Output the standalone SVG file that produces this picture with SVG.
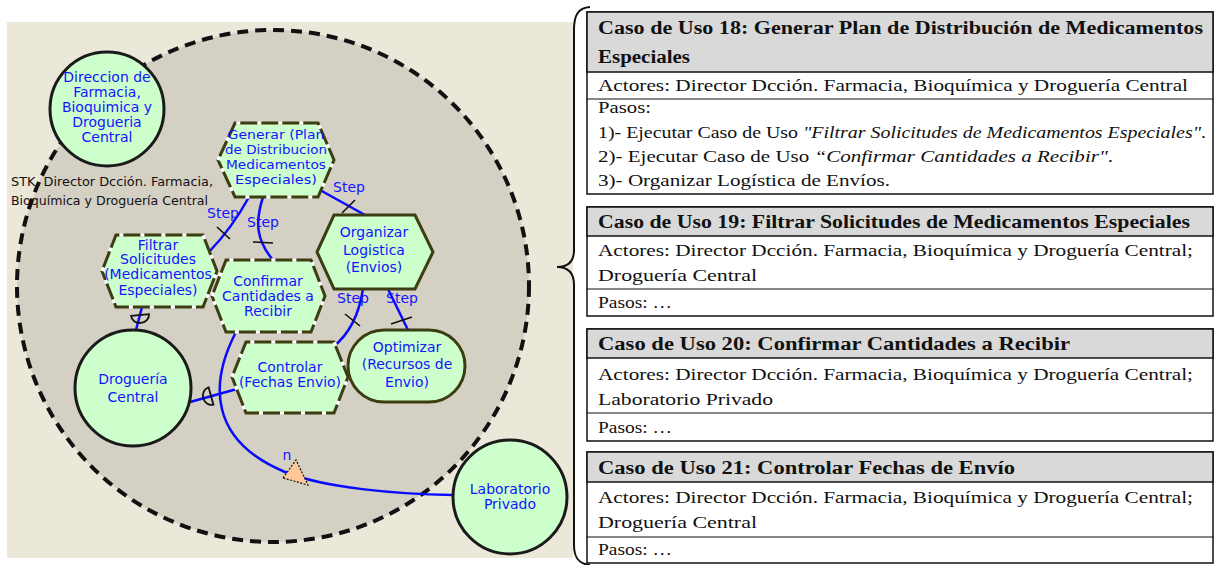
<svg xmlns="http://www.w3.org/2000/svg" width="1215" height="565" viewBox="0 0 1215 565">
  <style>
    .lbl { font-family: "DejaVu Sans", "Liberation Sans", sans-serif; font-size: 14px; fill: #1414ff; text-anchor: middle; }
    .sm { font-size: 13px; }
    .stk { font-family: "DejaVu Sans", "Liberation Sans", sans-serif; font-size: 13px; fill: #111; }
    .hex { fill: #ccffcc; stroke: #3d3d12; stroke-width: 3; stroke-linejoin: miter; }
    .hexdash { fill: none; stroke: #ffffff; stroke-width: 3.6; stroke-dasharray: 4 17; }
    .actor { fill: #ccffcc; stroke: #1a1a1a; stroke-width: 3; }
    .conn { fill: none; stroke: #0a0aff; stroke-width: 2.5; }
    .tick { stroke: #111; stroke-width: 1.6; fill: none; }
    .th { font-family: "Liberation Serif", "DejaVu Serif", serif; font-weight: bold; font-size: 18px; fill: #111; }
    .td { font-family: "Liberation Serif", "DejaVu Serif", serif; font-size: 16px; fill: #111; }
    .it { font-style: italic; }
    .tbox { fill: #ffffff; stroke: #111; stroke-width: 1.5; }
    .thead { fill: #d9d9d9; stroke: #111; stroke-width: 1.5; }
    .rule { stroke: #111; stroke-width: 1.2; }
  </style>
  <defs>
    <!-- half-disc consumption link symbol: flat side on x axis, bulge towards +y -->
    <path id="halfdisc" d="M-9,0 L9,0 A9,8 0 0 1 -9,0 Z" fill="none" stroke="#111" stroke-width="1.8"/>
  </defs>

  <rect x="0" y="0" width="1215" height="565" fill="#ffffff"/>

  <!-- model canvas -->
  <rect x="7" y="22" width="566" height="536" fill="#ebe7d9"/>
  <g id="system-boundary">
    <circle cx="273" cy="286" r="256" fill="#d4d0c4" stroke="#111" stroke-width="4" stroke-dasharray="11 7"/>
  </g>

  <!-- connectors -->
  <g id="connectors">
    <path class="conn" d="M249,197 Q232,228 209,252"/>
    <line class="tick" x1="217" y1="227" x2="230" y2="239"/>
    <path class="conn" d="M263,197 C255,222 256,240 273,260"/>
    <line class="tick" x1="253" y1="242" x2="273" y2="243"/>
    <path class="conn" d="M320,190 L365,215"/>
    <line class="tick" x1="342" y1="213" x2="355" y2="200"/>
    <path class="conn" d="M363,289 Q357,328 333,347"/>
    <line class="tick" x1="345" y1="314" x2="360" y2="326"/>
    <path class="conn" d="M388,289 L408,330"/>
    <line class="tick" x1="391" y1="324" x2="412" y2="317"/>
    <path class="conn" d="M142,307 L136,330"/>
    <use href="#halfdisc" transform="translate(140,315) rotate(-5)"/>
    <path class="conn" d="M237,389 L190,402"/>
    <use href="#halfdisc" transform="translate(211,396) rotate(74.5)"/>
    <path class="conn" d="M236,332 C210,382 208,440 285,472 C325,488 395,494 453,495"/>
    <polygon points="283,478 296,460 308,485" fill="#ffc896" stroke="#111" stroke-width="1.2" stroke-dasharray="2 1.5"/>
    <text class="lbl" x="287" y="460">n</text>
    <text class="lbl" x="223" y="218">Step</text>
    <text class="lbl" x="263" y="227">Step</text>
    <text class="lbl" x="349" y="192">Step</text>
    <text class="lbl" x="353" y="303">Step</text>
    <text class="lbl" x="402" y="303">Step</text>
  </g>

  <!-- actors -->
  <g id="direccion">
    <circle class="actor" cx="107" cy="109" r="57"/>
    <text class="lbl"><tspan x="107" y="82">Direccion de</tspan><tspan x="107" y="97">Farmacia,</tspan><tspan x="107" y="112">Bioquimica y</tspan><tspan x="107" y="127">Drogueria</tspan><tspan x="107" y="142">Central</tspan></text>
  </g>
  <g id="stk-label">
    <text class="stk" x="11" y="186" textLength="202" lengthAdjust="spacingAndGlyphs">STK, Director Dcción. Farmacia,</text>
    <text class="stk" x="11" y="205" textLength="197" lengthAdjust="spacingAndGlyphs">Bioquímica y Droguería Central</text>
  </g>
  <g id="drogueria">
    <circle class="actor" cx="133" cy="388" r="58"/>
    <text class="lbl"><tspan x="133" y="384">Droguería</tspan><tspan x="133" y="402">Central</tspan></text>
  </g>
  <g id="laboratorio">
    <circle class="actor" cx="510" cy="497" r="57"/>
    <text class="lbl"><tspan x="510" y="494">Laboratorio</tspan><tspan x="510" y="509">Privado</tspan></text>
  </g>

  <!-- processes -->
  <g id="generar">
    <polygon class="hex" points="218,160 235,123 318,123 334,160 318,197 235,197"/>
    <polygon class="hexdash" points="218,160 235,123 318,123 334,160 318,197 235,197"/>
    <text class="lbl sm"><tspan x="276" y="139" textLength="97" lengthAdjust="spacingAndGlyphs">Generar (Plan</tspan><tspan x="276" y="154" textLength="102" lengthAdjust="spacingAndGlyphs">de Distribucion</tspan><tspan x="276" y="169" textLength="100" lengthAdjust="spacingAndGlyphs">Medicamentos</tspan><tspan x="276" y="184" textLength="82" lengthAdjust="spacingAndGlyphs">Especiales)</tspan></text>
  </g>
  <g id="filtrar">
    <polygon class="hex" points="102,271 116,235 203,235 217,271 203,307 116,307"/>
    <polygon class="hexdash" points="102,271 116,235 203,235 217,271 203,307 116,307"/>
    <text class="lbl"><tspan x="158" y="250">Filtrar</tspan><tspan x="158" y="264">Solicitudes</tspan><tspan x="158" y="279">(Medicamentos</tspan><tspan x="158" y="295">Especiales)</tspan></text>
  </g>
  <g id="confirmar">
    <polygon class="hex" points="212,296 226,260 311,260 325,296 311,332 226,332"/>
    <polygon class="hexdash" points="212,296 226,260 311,260 325,296 311,332 226,332"/>
    <text class="lbl"><tspan x="268" y="286">Confirmar</tspan><tspan x="268" y="301">Cantidades a</tspan><tspan x="268" y="316">Recibir</tspan></text>
  </g>
  <g id="organizar">
    <polygon class="hex" points="317,252 334,215 415,215 433,252 415,289 334,289"/>
    <text class="lbl"><tspan x="374" y="237">Organizar</tspan><tspan x="374" y="255">Logistica</tspan><tspan x="374" y="272">(Envios)</tspan></text>
  </g>
  <g id="controlar">
    <polygon class="hex" points="232,377 246,342 334,342 348,377 334,413 246,413"/>
    <polygon class="hexdash" points="232,377 246,342 334,342 348,377 334,413 246,413"/>
    <text class="lbl"><tspan x="290" y="372">Controlar</tspan><tspan x="290" y="387">(Fechas Envio)</tspan></text>
  </g>
  <g id="optimizar">
    <rect class="hex" x="348" y="330" width="117" height="72" rx="36" ry="36"/>
    <text class="lbl"><tspan x="407" y="352">Optimizar</tspan><tspan x="407" y="369">(Recursos de</tspan><tspan x="407" y="387">Envio)</tspan></text>
  </g>

  <!-- brace grouping the use case tables -->
  <path d="M590,7 C578,8 574,15 574,30 L574,250 C574,261 568,267 557,267 C568,267 574,273 574,285 L574,545 C574,557 578,564 590,565" fill="none" stroke="#111" stroke-width="2"/>

  <!-- use case 18 -->
  <g id="uc18">
    <rect class="tbox" x="587" y="12" width="626" height="182"/>
    <rect class="thead" x="587" y="12" width="626" height="60"/>
    <line class="rule" x1="587" y1="99" x2="1213" y2="99"/>
    <text class="th" x="598" y="34" textLength="605" lengthAdjust="spacingAndGlyphs">Caso de Uso 18: Generar Plan de Distribución de Medicamentos</text>
    <text class="th" x="598" y="63" textLength="92" lengthAdjust="spacingAndGlyphs">Especiales</text>
    <text class="td" x="598" y="91" textLength="590" lengthAdjust="spacingAndGlyphs">Actores: Director Dcción. Farmacia, Bioquímica y Droguería Central</text>
    <text class="td" x="598" y="113" textLength="53" lengthAdjust="spacingAndGlyphs">Pasos:</text>
    <text class="td" x="598" y="138" textLength="608" lengthAdjust="spacingAndGlyphs">1)- Ejecutar Caso de Uso <tspan class="it">"Filtrar Solicitudes de Medicamentos Especiales"</tspan>.</text>
    <text class="td" x="598" y="162" textLength="515" lengthAdjust="spacingAndGlyphs">2)- Ejecutar Caso de Uso <tspan class="it">“Confirmar Cantidades a Recibir"</tspan>.</text>
    <text class="td" x="598" y="186" textLength="292" lengthAdjust="spacingAndGlyphs">3)- Organizar Logística de Envíos.</text>
  </g>

  <!-- use case 19 -->
  <g id="uc19">
    <rect class="tbox" x="587" y="207" width="626" height="109"/>
    <rect class="thead" x="587" y="207" width="626" height="29"/>
    <line class="rule" x1="587" y1="289" x2="1213" y2="289"/>
    <text class="th" x="598" y="228" textLength="592" lengthAdjust="spacingAndGlyphs">Caso de Uso 19: Filtrar Solicitudes de Medicamentos Especiales</text>
    <text class="td" x="598" y="256" textLength="595" lengthAdjust="spacingAndGlyphs">Actores: Director Dcción. Farmacia, Bioquímica y Droguería Central;</text>
    <text class="td" x="598" y="281" textLength="159" lengthAdjust="spacingAndGlyphs">Droguería Central</text>
    <text class="td" x="598" y="308" textLength="74" lengthAdjust="spacingAndGlyphs">Pasos: …</text>
  </g>

  <!-- use case 20 -->
  <g id="uc20">
    <rect class="tbox" x="587" y="329" width="626" height="112"/>
    <rect class="thead" x="587" y="329" width="626" height="29"/>
    <line class="rule" x1="587" y1="413" x2="1213" y2="413"/>
    <text class="th" x="598" y="350" textLength="472" lengthAdjust="spacingAndGlyphs">Caso de Uso 20: Confirmar Cantidades a Recibir</text>
    <text class="td" x="598" y="380" textLength="595" lengthAdjust="spacingAndGlyphs">Actores: Director Dcción. Farmacia, Bioquímica y Droguería Central;</text>
    <text class="td" x="598" y="405" textLength="175" lengthAdjust="spacingAndGlyphs">Laboratorio Privado</text>
    <text class="td" x="598" y="433" textLength="74" lengthAdjust="spacingAndGlyphs">Pasos: …</text>
  </g>

  <!-- use case 21 -->
  <g id="uc21">
    <rect class="tbox" x="587" y="452" width="626" height="111"/>
    <rect class="thead" x="587" y="452" width="626" height="30"/>
    <line class="rule" x1="587" y1="537" x2="1213" y2="537"/>
    <text class="th" x="598" y="474" textLength="417" lengthAdjust="spacingAndGlyphs">Caso de Uso 21: Controlar Fechas de Envío</text>
    <text class="td" x="598" y="503" textLength="595" lengthAdjust="spacingAndGlyphs">Actores: Director Dcción. Farmacia, Bioquímica y Droguería Central;</text>
    <text class="td" x="598" y="528" textLength="159" lengthAdjust="spacingAndGlyphs">Droguería Central</text>
    <text class="td" x="598" y="555" textLength="74" lengthAdjust="spacingAndGlyphs">Pasos: …</text>
  </g>
</svg>
